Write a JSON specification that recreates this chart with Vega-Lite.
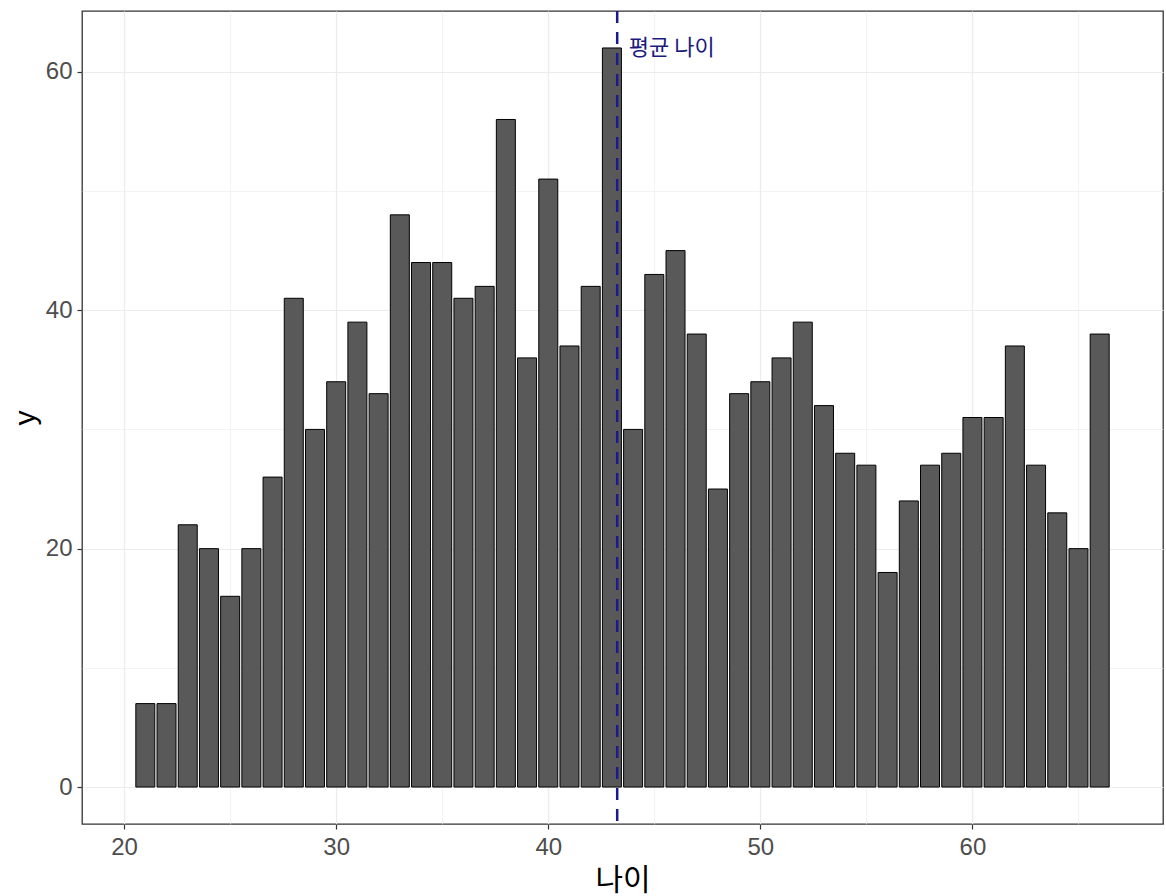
{
  "$schema": "https://vega.github.io/schema/vega-lite/v6.json",
  "width": 1081,
  "height": 813,
  "autosize": {"type": "none"},
  "padding": {"left": 82, "top": 11, "right": 3, "bottom": 72},
  "background": "white",
  "config": {
    "font": "Liberation Sans, Noto Sans CJK KR",
    "view": {"stroke": "#333333", "strokeWidth": 1.3},
    "axis": {
      "domain": false,
      "grid": true,
      "gridColor": "#EBEBEB",
      "tickColor": "#333333",
      "tickSize": 5,
      "tickWidth": 1.2,
      "labelColor": "#4D4D4D",
      "labelFontSize": 24,
      "labelFont": "Liberation Sans",
      "titleFont": "Liberation Sans, Noto Sans CJK KR",
      "titleFontSize": 30,
      "titleFontWeight": "normal",
      "titleColor": "#000000"
    }
  },
  "layer": [
    {
      "data": {
        "values": [
          {"age": 21, "n": 7}, {"age": 22, "n": 7}, {"age": 23, "n": 22},
          {"age": 24, "n": 20}, {"age": 25, "n": 16}, {"age": 26, "n": 20},
          {"age": 27, "n": 26}, {"age": 28, "n": 41}, {"age": 29, "n": 30},
          {"age": 30, "n": 34}, {"age": 31, "n": 39}, {"age": 32, "n": 33},
          {"age": 33, "n": 48}, {"age": 34, "n": 44}, {"age": 35, "n": 44},
          {"age": 36, "n": 41}, {"age": 37, "n": 42}, {"age": 38, "n": 56},
          {"age": 39, "n": 36}, {"age": 40, "n": 51}, {"age": 41, "n": 37},
          {"age": 42, "n": 42}, {"age": 43, "n": 62}, {"age": 44, "n": 30},
          {"age": 45, "n": 43}, {"age": 46, "n": 45}, {"age": 47, "n": 38},
          {"age": 48, "n": 25}, {"age": 49, "n": 33}, {"age": 50, "n": 34},
          {"age": 51, "n": 36}, {"age": 52, "n": 39}, {"age": 53, "n": 32},
          {"age": 54, "n": 28}, {"age": 55, "n": 27}, {"age": 56, "n": 18},
          {"age": 57, "n": 24}, {"age": 58, "n": 27}, {"age": 59, "n": 28},
          {"age": 60, "n": 31}, {"age": 61, "n": 31}, {"age": 62, "n": 37},
          {"age": 63, "n": 27}, {"age": 64, "n": 23}, {"age": 65, "n": 20},
          {"age": 66, "n": 38}
        ]
      },
      "mark": {"type": "bar", "size": 19, "fill": "#595959", "stroke": "#000000", "strokeWidth": 1},
      "encoding": {
        "x": {
          "field": "age",
          "type": "quantitative",
          "title": "나이",
          "scale": {"domain": [18.25, 68.75], "nice": false, "zero": false},
          "axis": {
            "values": [20, 25, 30, 35, 40, 45, 50, 55, 60, 65],
            "labelExpr": "datum.value % 10 === 0 ? datum.label : ''",
            "tickOpacity": {"condition": {"test": "datum.value % 10 !== 0", "value": 0}, "value": 1},
            "gridWidth": {"condition": {"test": "datum.value % 10 !== 0", "value": 0.6}, "value": 1.2},
            "labelPadding": 6,
            "titlePadding": 6
          }
        },
        "y": {
          "field": "n",
          "type": "quantitative",
          "title": "y",
          "scale": {"domain": [-3.1, 65.1], "nice": false, "zero": false},
          "axis": {
            "values": [0, 10, 20, 30, 40, 50, 60],
            "labelExpr": "datum.value % 20 === 0 ? datum.label : ''",
            "tickOpacity": {"condition": {"test": "datum.value % 20 !== 0", "value": 0}, "value": 1},
            "gridWidth": {"condition": {"test": "datum.value % 20 !== 0", "value": 0.6}, "value": 1.2},
            "labelPadding": 5,
            "titlePadding": 5
          }
        },
        "y2": {"datum": 0}
      }
    },
    {
      "data": {"values": [{"mean": 43.25}]},
      "mark": {"type": "rule", "color": "#1a1a8c", "strokeWidth": 2.5, "strokeDash": [12, 9]},
      "encoding": {
        "x": {"field": "mean", "type": "quantitative"}
      }
    },
    {
      "data": {"values": [{"x": 43.8, "y": 62, "label": "평균 나이"}]},
      "mark": {"type": "text", "align": "left", "baseline": "middle", "fontSize": 22, "color": "#1a1a80", "font": "Noto Sans CJK KR"},
      "encoding": {
        "x": {"field": "x", "type": "quantitative"},
        "y": {"field": "y", "type": "quantitative"},
        "text": {"field": "label"}
      }
    }
  ]
}
